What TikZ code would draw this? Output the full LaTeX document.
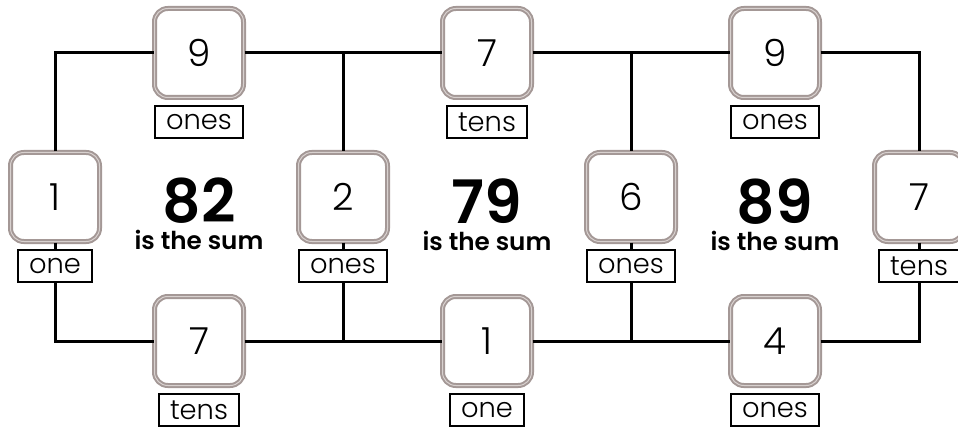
\documentclass[tikz,border=0pt]{standalone}
\usepackage{fontspec}
\setmainfont{Poppins}[UprightFont={Poppins Light}, BoldFont={Poppins SemiBold}]
\usepackage{xcolor}
\usetikzlibrary{positioning}

\definecolor{tilegray}{RGB}{164,152,150}
\definecolor{tileshine}{RGB}{216,209,207}

\tikzset{
	digitbox/.style={draw=tilegray, line width=1.5pt, double=tileshine, double distance=0.75pt,
		rounded corners=10pt, fill=white, minimum size=66.75pt, inner sep=0pt,
		font=\fontsize{28}{30}\selectfont},
	placetag/.style={draw=black, line width=1.5pt, fill=white, minimum height=24pt,
		inner xsep=8pt, inner ysep=0pt, font=\fontsize{20.5}{22}\selectfont},
	sumlabel/.style={anchor=north, inner sep=0pt, align=center,
		font=\fontsize{18.5}{20.25}\selectfont\bfseries},
	wire/.style={line width=2.25pt}
}
\newcommand{\sumvalue}[1]{{\fontsize{45}{20.25}\selectfont #1}\\is the sum}

\begin{document}
\begin{tikzpicture}[x=0.75pt, y=-0.75pt]
			\useasboundingbox (0,0) rectangle (958,428);
			
			% Define the key coordinates
			% (corners of the frame and the joints on the top and bottom rows)
			\coordinate (TL) at (55,53);
			\coordinate (TR) at (919,53);
			\coordinate (BL) at (55,341);
			\coordinate (BR) at (919,341);
			\coordinate (Jt1) at (343,53);
			\coordinate (Jt2) at (631,53);
			\coordinate (Jb1) at (343,341);
			\coordinate (Jb2) at (631,341);
			
			% Top row of digits
			\node[digitbox] (t1) at (199,53) {9};
			\node[digitbox] (t2) at (487,53) {7};
			\node[digitbox] (t3) at (775,53) {9};
			
			% Middle row of digits
			\node[digitbox] (m0) at (55,197) {1};
			\node[digitbox] (m1) at (343,197) {2};
			\node[digitbox] (m2) at (631,197) {6};
			\node[digitbox] (m3) at (919,197) {7};
			
			% Bottom row of digits
			\node[digitbox] (b1) at (199,341) {7};
			\node[digitbox] (b2) at (487,341) {1};
			\node[digitbox] (b3) at (775,341) {4};
			
			% Place value tags under each digit
			\node[placetag, below=5pt of t1] (gt1) {ones};
			\node[placetag, below=5pt of t2] (gt2) {tens};
			\node[placetag, below=5pt of t3] (gt3) {ones};
			\node[placetag, below=5pt of m0] (gm0) {one};
			\node[placetag, below=5pt of m1] (gm1) {ones};
			\node[placetag, below=5pt of m2] (gm2) {ones};
			\node[placetag, below=5pt of m3] (gm3) {tens};
			\node[placetag, below=5pt of b1] (gb1) {tens};
			\node[placetag, below=5pt of b2] (gb2) {one};
			\node[placetag, below=5pt of b3] (gb3) {ones};
			
			% Draw the top and bottom rows of the frame
			\draw[wire] (m0.north) -- (TL) -- (t1.west);
			\draw[wire] (t1.east) -- (t2.west);
			\draw[wire] (t2.east) -- (t3.west);
			\draw[wire] (t3.east) -- (TR) -- (m3.north);
			\draw[wire] (gm0.south) -- (BL) -- (b1.west);
			\draw[wire] (b1.east) -- (b2.west);
			\draw[wire] (b2.east) -- (b3.west);
			\draw[wire] (b3.east) -- (BR) -- (gm3.south);
			
			% Draw the columns between the rows
			\draw[wire] (Jt1) -- (m1.north);
			\draw[wire] (Jt2) -- (m2.north);
			\draw[wire] (gm1.south) -- (Jb1);
			\draw[wire] (gm2.south) -- (Jb2);
			\draw[wire] (m0.south) -- (gm0.north);
			\draw[wire] (m1.south) -- (gm1.north);
			\draw[wire] (m2.south) -- (gm2.north);
			\draw[wire] (m3.south) -- (gm3.north);
			
			% Add the sums
			\node[sumlabel] (sum1) at (199,178) {\sumvalue{82}};
			\node[sumlabel] (sum2) at (487,178) {\sumvalue{79}};
			\node[sumlabel] (sum3) at (775,178) {\sumvalue{89}};
			
		\end{tikzpicture}
\end{document}
